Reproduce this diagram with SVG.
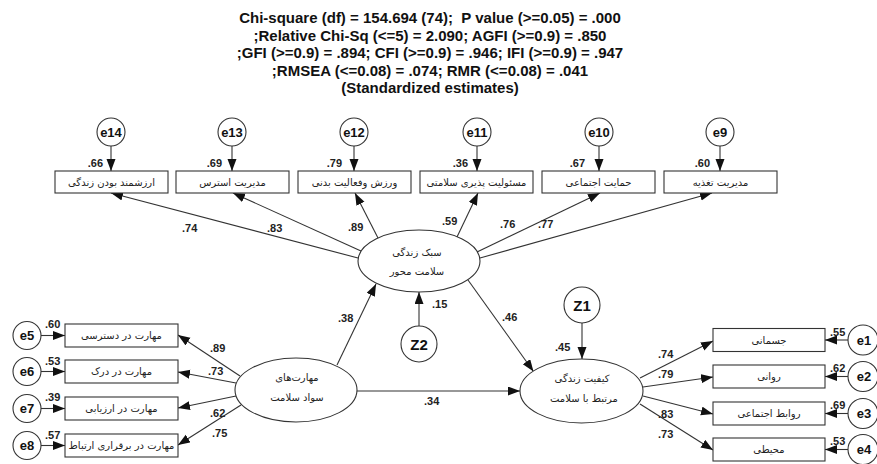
<svg xmlns="http://www.w3.org/2000/svg" width="877" height="464" viewBox="0 0 877 464">
<style>
.hdr{font-family:"Liberation Sans",Arial,sans-serif;font-weight:bold;font-size:15px;fill:#111;text-anchor:middle}
.box{fill:#fff;stroke:#333;stroke-width:1.1}
.lat{fill:#fff;stroke:#333;stroke-width:1.1}
.err{fill:#fff;stroke:#333;stroke-width:1.1}
.fa{font-family:"DejaVu Sans",sans-serif;font-size:10px;fill:#222;text-anchor:middle}
.en{font-family:"Liberation Sans",Arial,sans-serif;font-weight:bold;font-size:13px;fill:#111;text-anchor:middle}
.z{font-family:"Liberation Sans",Arial,sans-serif;font-weight:bold;font-size:15px;fill:#111;text-anchor:middle}
.num{font-family:"Liberation Sans",Arial,sans-serif;font-weight:bold;font-size:11px;fill:#222}
.ne{text-anchor:end}
.con line{stroke:#333;stroke-width:1.1;marker-end:url(#ah)}
</style>
<defs>
<marker id="ah" markerUnits="userSpaceOnUse" markerWidth="13" markerHeight="10" refX="12" refY="4.5" orient="auto">
<path d="M0,0 L12,4.5 L0,9 z" fill="#111"/>
</marker>
</defs>
<rect width="877" height="464" fill="#fff"/>
<g id="header">
<text class="hdr" x="430" y="23">Chi-square (df) = 154.694 (74);&#160; P value (&gt;=0.05) = .000</text>
<text class="hdr" x="430" y="40.5">;Relative Chi-Sq (&lt;=5) = 2.090; AGFI (&gt;=0.9) = .850</text>
<text class="hdr" x="430" y="58">;GFI (&gt;=0.9) = .894; CFI (&gt;=0.9) = .946; IFI (&gt;=0.9) = .947</text>
<text class="hdr" x="430" y="75.5">;RMSEA (&lt;=0.08) = .074; RMR (&lt;=0.08) = .041</text>
<text class="hdr" x="430" y="93">(Standardized estimates)</text>
</g>
<g id="connectors" class="con">
<line x1="111" y1="146" x2="111" y2="171"/>
<line x1="232" y1="146" x2="232" y2="171"/>
<line x1="354" y1="146" x2="354" y2="171"/>
<line x1="477" y1="146" x2="477" y2="171"/>
<line x1="599" y1="146" x2="599" y2="171"/>
<line x1="720" y1="146" x2="720" y2="171"/>
<line x1="358" y1="258" x2="111" y2="193"/>
<line x1="361" y1="251" x2="233" y2="193"/>
<line x1="378" y1="238" x2="355" y2="193"/>
<line x1="457" y1="237" x2="478" y2="193"/>
<line x1="477" y1="252" x2="600" y2="193"/>
<line x1="480" y1="258" x2="712" y2="193"/>
<line x1="419" y1="326" x2="419" y2="292"/>
<line x1="337" y1="365" x2="376" y2="284"/>
<line x1="468" y1="280" x2="533.5" y2="371.5"/>
<line x1="357" y1="391" x2="520" y2="391"/>
<line x1="582" y1="323" x2="582" y2="359"/>
<line x1="640" y1="378" x2="713" y2="341"/>
<line x1="643" y1="387" x2="713" y2="377"/>
<line x1="643" y1="396" x2="713" y2="414"/>
<line x1="640" y1="404" x2="713" y2="450"/>
<line x1="240" y1="376" x2="178" y2="335"/>
<line x1="236" y1="383" x2="178" y2="372"/>
<line x1="236" y1="396" x2="178" y2="408"/>
<line x1="241" y1="405" x2="178" y2="445"/>
<line x1="41" y1="335.5" x2="65" y2="335.5"/>
<line x1="41" y1="371.5" x2="65" y2="371.5"/>
<line x1="41" y1="408.5" x2="65" y2="408.5"/>
<line x1="41" y1="445.5" x2="65" y2="445.5"/>
<line x1="848" y1="340" x2="825" y2="340"/>
<line x1="848" y1="376.5" x2="825" y2="376.5"/>
<line x1="848" y1="413.5" x2="825" y2="413.5"/>
<line x1="848" y1="449.5" x2="825" y2="449.5"/>
</g>
<g id="e14"><circle class="err" cx="111" cy="132" r="14"/><text class="en" x="111" y="136.5">e14</text></g>
<g id="e13"><circle class="err" cx="232" cy="132" r="14"/><text class="en" x="232" y="136.5">e13</text></g>
<g id="e12"><circle class="err" cx="354" cy="132" r="14"/><text class="en" x="354" y="136.5">e12</text></g>
<g id="e11"><circle class="err" cx="477" cy="132" r="14"/><text class="en" x="477" y="136.5">e11</text></g>
<g id="e10"><circle class="err" cx="599" cy="132" r="14"/><text class="en" x="599" y="136.5">e10</text></g>
<g id="e9"><circle class="err" cx="720" cy="132" r="14"/><text class="en" x="720" y="136.5">e9</text></g>
<g id="box_life_value"><rect class="box" x="55" y="171" width="113" height="22"/><text class="fa" x="111.5" y="185.5">ارزشمند بودن زندگی</text></g>
<g id="box_stress"><rect class="box" x="176" y="171" width="113" height="22"/><text class="fa" x="232.5" y="185.5">مدیریت استرس</text></g>
<g id="box_exercise"><rect class="box" x="298" y="171" width="113" height="22"/><text class="fa" x="354.5" y="185.5">ورزش وفعالیت بدنی</text></g>
<g id="box_responsibility"><rect class="box" x="420" y="171" width="113" height="22"/><text class="fa" x="476.5" y="185.5">مسئولیت پذیری سلامتی</text></g>
<g id="box_support"><rect class="box" x="542" y="171" width="113" height="22"/><text class="fa" x="598.5" y="185.5">حمایت اجتماعی</text></g>
<g id="box_nutrition"><rect class="box" x="664" y="171" width="113" height="22"/><text class="fa" x="720.5" y="185.5">مدیریت تغذیه</text></g>
<g id="lifestyle"><ellipse class="lat" cx="419" cy="261" rx="61" ry="31"/><text class="fa" x="417" y="255.5">سبک زندگی</text><text class="fa" x="417" y="275">سلامت محور</text></g>
<g id="Z2"><circle class="err" cx="419" cy="344" r="18"/><text class="z" x="419" y="349.5">Z2</text></g>
<g id="literacy"><ellipse class="lat" cx="296" cy="390" rx="61" ry="32"/><text class="fa" x="297" y="381">مهارت‌های</text><text class="fa" x="297" y="401">سواد سلامت</text></g>
<g id="qol"><ellipse class="lat" cx="581.5" cy="391" rx="61.5" ry="32"/><text class="fa" x="582" y="382">کیفیت زندگی</text><text class="fa" x="584" y="402">مرتبط با سلامت</text></g>
<g id="Z1"><circle class="err" cx="582" cy="305" r="18"/><text class="z" x="582" y="310.5">Z1</text></g>
<g id="box_access"><rect class="box" x="65" y="324" width="113" height="23"/><text class="fa" x="121.5" y="339">مهارت در دسترسی</text></g>
<g id="box_understand"><rect class="box" x="65" y="360" width="113" height="23"/><text class="fa" x="121.5" y="375">مهارت در درک</text></g>
<g id="box_evaluate"><rect class="box" x="65" y="397" width="113" height="23"/><text class="fa" x="121.5" y="412">مهارت در ارزیابی</text></g>
<g id="box_communicate"><rect class="box" x="65" y="434" width="113" height="23"/><text class="fa" x="121.5" y="449">مهارت در برقراری ارتباط</text></g>
<g id="e5"><circle class="err" cx="27" cy="335.5" r="14"/><text class="en" x="27" y="340">e5</text></g>
<g id="e6"><circle class="err" cx="27" cy="371.5" r="14"/><text class="en" x="27" y="376">e6</text></g>
<g id="e7"><circle class="err" cx="27" cy="408.5" r="14"/><text class="en" x="27" y="413">e7</text></g>
<g id="e8"><circle class="err" cx="27" cy="445.5" r="14"/><text class="en" x="27" y="450">e8</text></g>
<g id="box_physical"><rect class="box" x="713" y="328.5" width="112" height="23"/><text class="fa" x="769" y="343.5">جسمانی</text></g>
<g id="box_psych"><rect class="box" x="713" y="365" width="112" height="23"/><text class="fa" x="769" y="380">روانی</text></g>
<g id="box_social"><rect class="box" x="713" y="402" width="112" height="23"/><text class="fa" x="769" y="417">روابط اجتماعی</text></g>
<g id="box_env"><rect class="box" x="713" y="438" width="112" height="23"/><text class="fa" x="769" y="453">محیطی</text></g>
<g id="e1"><circle class="err" cx="863" cy="340" r="15"/><text class="en" x="864" y="344.5">e1</text></g>
<g id="e2"><circle class="err" cx="863" cy="376.5" r="15"/><text class="en" x="864" y="381">e2</text></g>
<g id="e3"><circle class="err" cx="863" cy="413.5" r="15"/><text class="en" x="864" y="418">e3</text></g>
<g id="e4"><circle class="err" cx="863" cy="449.5" r="15"/><text class="en" x="864" y="454">e4</text></g>
<g id="labels">
<text class="num ne" x="103" y="167">.66</text>
<text class="num ne" x="222" y="167">.69</text>
<text class="num ne" x="342" y="167">.79</text>
<text class="num ne" x="468" y="167">.36</text>
<text class="num ne" x="585" y="167">.67</text>
<text class="num ne" x="710" y="167">.60</text>
<text class="num" x="182" y="232">.74</text>
<text class="num" x="267" y="232">.83</text>
<text class="num" x="348" y="231">.89</text>
<text class="num" x="442" y="225">.59</text>
<text class="num" x="500" y="228">.76</text>
<text class="num" x="538" y="228">.77</text>
<text class="num" x="432" y="308">.15</text>
<text class="num" x="338" y="322">.38</text>
<text class="num" x="502" y="321">.46</text>
<text class="num" x="424" y="405">.34</text>
<text class="num" x="555" y="351">.45</text>
<text class="num" x="658" y="358">.74</text>
<text class="num" x="658" y="378">.79</text>
<text class="num" x="658" y="418">.83</text>
<text class="num" x="658" y="438">.73</text>
<text class="num" x="210" y="352">.89</text>
<text class="num" x="208" y="375">.73</text>
<text class="num" x="210" y="417">.62</text>
<text class="num" x="212" y="437">.75</text>
<text class="num" x="45" y="328">.60</text>
<text class="num" x="45" y="365">.53</text>
<text class="num" x="45" y="401">.39</text>
<text class="num" x="45" y="439">.57</text>
<text class="num" x="830" y="336">.55</text>
<text class="num" x="830" y="372">.62</text>
<text class="num" x="830" y="409">.69</text>
<text class="num" x="830" y="445">.53</text>
</g>
</svg>
